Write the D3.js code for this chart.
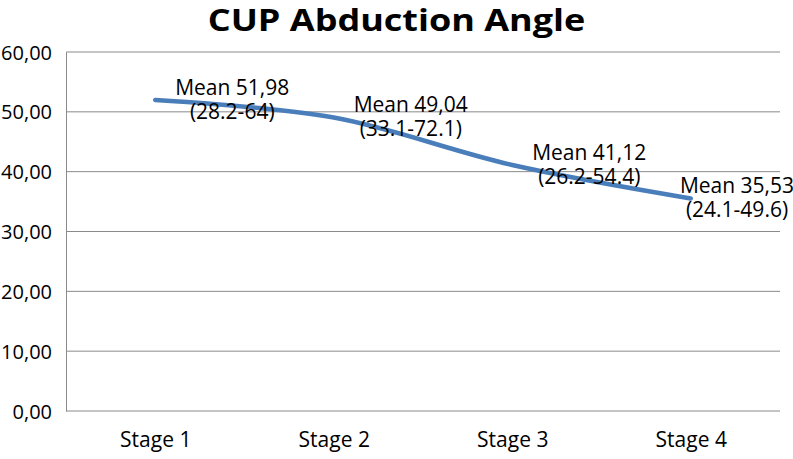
<!DOCTYPE html>
<html>
<head>
<meta charset="utf-8">
<script src="https://cdn.jsdelivr.net/npm/d3@7"></script>
<style>
  body { margin: 0; background: #fff; }
  svg text { font-family: "Open Sans", sans-serif; fill: #000; }
</style>
</head>
<body>
<svg id="chart"></svg>
<script>
const stages = ["Stage 1", "Stage 2", "Stage 3", "Stage 4"];
const means = [51.98, 49.04, 41.12, 35.53];
const ranges = ["(28.2-64)", "(33.1-72.1)", "(26.2-54.4)", "(24.1-49.6)"];
const yTicks = [0, 10, 20, 30, 40, 50, 60];

drawChart();

function drawChart() {
    const svgWidth = 793;
    const svgHeight = 459;
    const left = 66, right = 780, top = 52, bottom = 411;

    const svg = d3.select("#chart")
                    .attr("width", svgWidth)
                    .attr("height", svgHeight);

    //scales
    const x = d3.scalePoint()
                .domain(stages)
                .range([left, right])
                .padding(0.5);

    const y = d3.scaleLinear()
                .domain([0, 60])
                .range([bottom, top]);

    const fmt = v => d3.format(".2f")(v).replace(".", ",");

    //gridlines
    svg.append("g")
        .selectAll("line")
        .data(yTicks)
        .enter()
        .append("line")
        .attr("x1", left)
        .attr("x2", right)
        .attr("y1", d => y(d))
        .attr("y2", d => y(d))
        .attr("stroke", "#8a8a8a")
        .attr("stroke-width", 1);

    //y axis
    const yAxis = d3.axisLeft(y)
                    .tickValues(yTicks)
                    .tickSize(0)
                    .tickPadding(14)
                    .tickFormat(fmt);

    const gy = svg.append("g")
        .attr("transform", `translate(${left}, 0)`)
        .call(yAxis);
    gy.select(".domain").attr("stroke", "#8a8a8a");
    gy.selectAll("text").style("font-size", "20px").attr("dy", "0.35em");

    //x axis
    const xAxis = d3.axisBottom(x).tickSize(0).tickPadding(21);
    const gx = svg.append("g")
        .attr("transform", `translate(0, ${bottom})`)
        .call(xAxis);
    gx.select(".domain").remove();
    gx.selectAll("text").style("font-size", "21px");

    //line
    const line = d3.line()
                    .x((d, i) => x(stages[i]))
                    .y(d => y(d))
                    .curve(d3.curveCatmullRom.alpha(0.5));

    svg.append("path")
        .datum(means)
        .attr("d", line)
        .attr("fill", "none")
        .attr("stroke", "#4a7ebb")
        .attr("stroke-width", 4.5)
        .attr("stroke-linecap", "round");

    //data labels, two lines each
    const labels = svg.append("g")
        .selectAll("text")
        .data(means)
        .enter()
        .append("text")
        .attr("text-anchor", "middle")
        .style("font-size", "21px")
        .attr("x", (d, i) => Math.min(x(stages[i]) + 77, svgWidth - 56))
        .attr("y", d => y(d));

    labels.append("tspan")
        .attr("x", function () { return d3.select(this.parentNode).attr("x"); })
        .attr("dy", "-0.25em")
        .text(d => "Mean " + fmt(d));

    labels.append("tspan")
        .attr("x", function () { return d3.select(this.parentNode).attr("x"); })
        .attr("dy", "1.15em")
        .text((d, i) => ranges[i]);

    //title
    svg.append("text")
        .attr("transform", `translate(${svgWidth / 2}, 31) scale(1.2, 1)`)
        .attr("text-anchor", "middle")
        .style("font-size", "30px")
        .style("font-weight", "bold")
        .text("CUP Abduction Angle");
}
</script>
</body>
</html>
